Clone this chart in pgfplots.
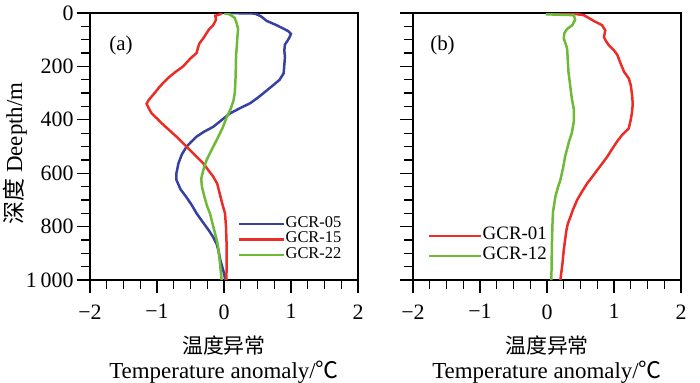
\documentclass[border=0pt]{standalone}
\usepackage{fontspec}
\setmainfont{Liberation Serif}
\newfontfamily\cjk{Noto Sans CJK SC}
\usepackage{pgfplots}
\pgfplotsset{compat=1.18}
\definecolor{cblue}{RGB}{55,65,160}
\definecolor{cred}{RGB}{235,45,40}
\definecolor{cgreen}{RGB}{110,185,55}

\pgfplotsset{
 myax/.style={
  scale only axis, width=268bp, height=267bp,
  xmin=-2, xmax=2, ymin=0, ymax=1000, y dir=reverse,
  xtick={-2,-1,0,1,2}, xticklabels={−2,−1,0,1,2},
  ytick={0,200,...,1000},
  minor x tick num=3, minor y tick num=3,
  tick align=outside, xtick pos=bottom, ytick pos=left,
  major tick length=13bp, minor tick length=9bp,
  every tick/.style={black, line width=1.3bp},
  axis line style={line width=1.8bp},
  tick label style={font=\fontsize{22}{22}\selectfont},
  xticklabel style={yshift=-8bp},
  xlabel={{\cjk\fontsize{21}{26}\selectfont 温度异常}\\Temperature anomaly/{\cjk ℃}},
  xlabel style={align=center, font=\fontsize{23}{25}\selectfont, at={(axis description cs:0.5,0)}, anchor=north, inner sep=0pt, yshift=-56bp},
  legend image code/.code={\draw[##1, line width=2.5bp] (0bp,0bp) -- (45bp,0bp);},
  every axis plot/.append style={line width=2.5bp, no marks},
 }
}

\begin{document}
\begin{tikzpicture}
\path[use as bounding box] (0,0) rectangle (700bp,383bp);
\begin{axis}[myax, at={(90bp,103bp)}, anchor=south west,
  yticklabels={0,200,400,600,800,{1\,000}},
  ylabel={{\cjk 深度} Deepth/m},
  ylabel style={at={(axis description cs:-0.28,0.474)}, anchor=center, font=\fontsize{23}{23}\selectfont, inner sep=0pt},
  legend style={draw=none, fill=none, at={(0.552,0.24)}, anchor=north west, inner sep=0pt,
    font=\fontsize{16.5}{16.5}\selectfont, nodes={inner sep=0pt, text height=11bp, text depth=4.5bp},
    /tikz/every even column/.style={column sep=0pt}},
  legend cell align=left,
]
\addplot[cblue] coordinates {(0,0) (0.46,2) (0.55,12) (0.64,30) (0.78,45) (0.96,68) (1.0,78) (0.97,95) (0.91,118) (0.90,140) (0.91,165) (0.90,195) (0.89,226) (0.83,250) (0.76,265) (0.59,300) (0.50,318) (0.39,338) (0.25,355) (0.09,376) (-0.03,400) (-0.16,426) (-0.30,445) (-0.41,463) (-0.50,485) (-0.56,501) (-0.63,530) (-0.68,563) (-0.71,600) (-0.71,625) (-0.65,660) (-0.56,690) (-0.48,720) (-0.41,750) (-0.32,782) (-0.23,813) (-0.16,840) (-0.11,865) (-0.085,888) (-0.05,930) (-0.01,965) (0.02,1000)};
\addlegendentry{GCR-05}
\addplot[cred] coordinates {(-0.03,0) (-0.06,5) (-0.13,10) (-0.12,25) (-0.16,45) (-0.22,60) (-0.31,95) (-0.37,115) (-0.41,150) (-0.5,170) (-0.61,200) (-0.72,220) (-0.81,238) (-0.9,260) (-0.96,276) (-1.02,295) (-1.08,313) (-1.13,328) (-1.155,340) (-1.12,358) (-1.08,376) (-1.0,395) (-0.93,413) (-0.82,438) (-0.71,463) (-0.61,488) (-0.51,513) (-0.41,538) (-0.31,563) (-0.23,590) (-0.16,613) (-0.1,640) (-0.06,680) (-0.02,720) (0.015,750) (0.03,800) (0.04,875) (0.04,940) (0.035,1000)};
\addlegendentry{GCR-15}
\addplot[cgreen] coordinates {(0,0) (0.08,5) (0.16,18) (0.19,39) (0.21,60) (0.20,90) (0.19,130) (0.18,160) (0.175,220) (0.17,260) (0.16,300) (0.14,330) (0.09,365) (0.04,390) (-0.02,430) (-0.11,476) (-0.18,510) (-0.26,551) (-0.30,580) (-0.34,620) (-0.33,650) (-0.29,690) (-0.25,725) (-0.21,750) (-0.17,790) (-0.134,825) (-0.10,860) (-0.085,880) (-0.06,938) (-0.035,1000)};
\addlegendentry{GCR-22}
\node[font=\fontsize{21}{21}\selectfont, inner sep=0pt] at (axis description cs:0.116,0.88) {(a)};
\end{axis}
\begin{axis}[myax, at={(413bp,103bp)}, anchor=south west,
  yticklabels={},
  legend style={draw=none, fill=none, at={(0.056,0.203)}, anchor=north west, inner sep=0pt,
    font=\fontsize{19}{19}\selectfont, nodes={inner sep=0pt, text height=13bp, text depth=7bp},
    /tikz/every even column/.style={column sep=0pt}},
  legend cell align=left,
  legend image code/.code={\draw[#1, line width=2.5bp] (0bp,0bp) -- (52bp,0bp);},
]
\addplot[cred] coordinates {(0.03,0) (0.4,3) (0.55,8) (0.7,30) (0.82,45) (0.87,65) (0.85,90) (0.88,105) (0.92,120) (1.0,140) (1.05,157) (1.1,190) (1.15,220) (1.22,245) (1.25,270) (1.27,307) (1.28,340) (1.27,370) (1.25,400) (1.22,432) (1.12,457) (1.05,480) (0.97,510) (0.9,538) (0.82,565) (0.75,588) (0.68,612) (0.6,638) (0.52,670) (0.45,700) (0.39,735) (0.35,763) (0.31,790) (0.29,813) (0.27,850) (0.25,888) (0.23,940) (0.2,1000)};
\addlegendentry{GCR-01}
\addplot[cgreen] coordinates {(0,0) (0,5) (0.4,8) (0.42,25) (0.38,45) (0.3,60) (0.26,75) (0.25,95) (0.3,132) (0.32,220) (0.35,280) (0.37,320) (0.4,360) (0.4,407) (0.37,450) (0.33,480) (0.27,538) (0.24,580) (0.2,625) (0.16,655) (0.125,688) (0.09,744) (0.08,800) (0.075,850) (0.07,920) (0.065,1000)};
\addlegendentry{GCR-12}
\node[font=\fontsize{21}{21}\selectfont, inner sep=0pt] at (axis description cs:0.11,0.88) {(b)};
\end{axis}
\end{tikzpicture}
\end{document}
